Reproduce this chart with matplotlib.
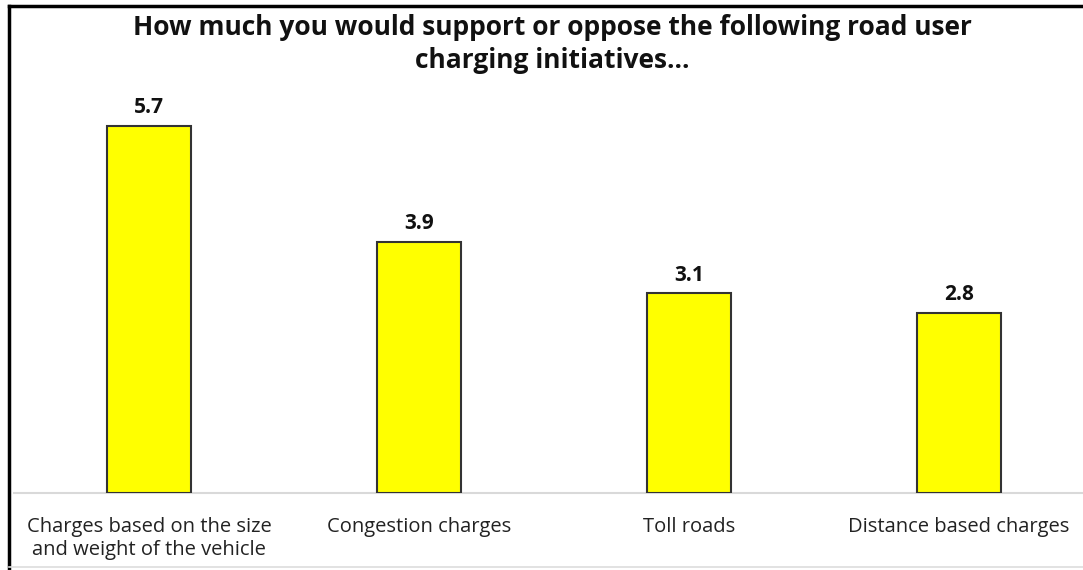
import matplotlib.pyplot as plt
from matplotlib.lines import Line2D

# Road user charging initiatives: average support score
categories = ['Charges based on the size\nand weight of the vehicle',
              'Congestion charges', 'Toll roads', 'Distance based charges']
scores = [5.7, 3.9, 3.1, 2.8]

title = 'How much you would support or oppose the following road user\ncharging initiatives...'

W, H = 1083, 570
fig = plt.figure(figsize=(W / 100, H / 100), dpi=100)
plt.rcParams['font.family'] = ['Open Sans', 'DejaVu Sans']

# axes placed in pixel terms: baseline at y=493, left edge at x=14
ax = fig.add_axes([14 / W, (H - 493) / H, (W - 14) / W, 418.6 / H])
x = range(len(categories))
bars = ax.bar(x, scores, width=0.31, color='#ffff00', edgecolor='#333333', linewidth=1.5, zorder=3)
ax.set_xlim(-0.5, 3.459)
ax.set_ylim(0, 6.5)

for b, v in zip(bars, scores):
    ax.text(b.get_x() + b.get_width() / 2, v + 0.12, f'{v:.1f}', ha='center', va='bottom',
            fontsize=15, fontweight='bold', color='#111111')

ax.set_xticks(list(x))
ax.set_xticklabels(categories, fontsize=14.5, color='#222222', linespacing=1.25)
ax.tick_params(axis='x', length=0, pad=17)
ax.set_yticks([])
for s in ['top', 'right', 'left']:
    ax.spines[s].set_visible(False)
ax.spines['bottom'].set_color('#d9d9d9')
ax.spines['bottom'].set_linewidth(1.5)

fig.text(552 / W, 1 - 44 / H, title, ha='center', va='center', fontsize=19,
         fontweight='bold', color='#111111', linespacing=1.3)

# picture frame: dark top and left edges, light bottom edge
fig.add_artist(Line2D([9 / W, 1], [1 - 6 / H, 1 - 6 / H], color='black', linewidth=2.5))
fig.add_artist(Line2D([9 / W, 9 / W], [0, 1 - 6 / H], color='black', linewidth=2.5))
fig.add_artist(Line2D([9 / W, 1], [3 / H, 3 / H], color='#dddddd', linewidth=1.2))

fig.savefig('out.png', dpi=100)
